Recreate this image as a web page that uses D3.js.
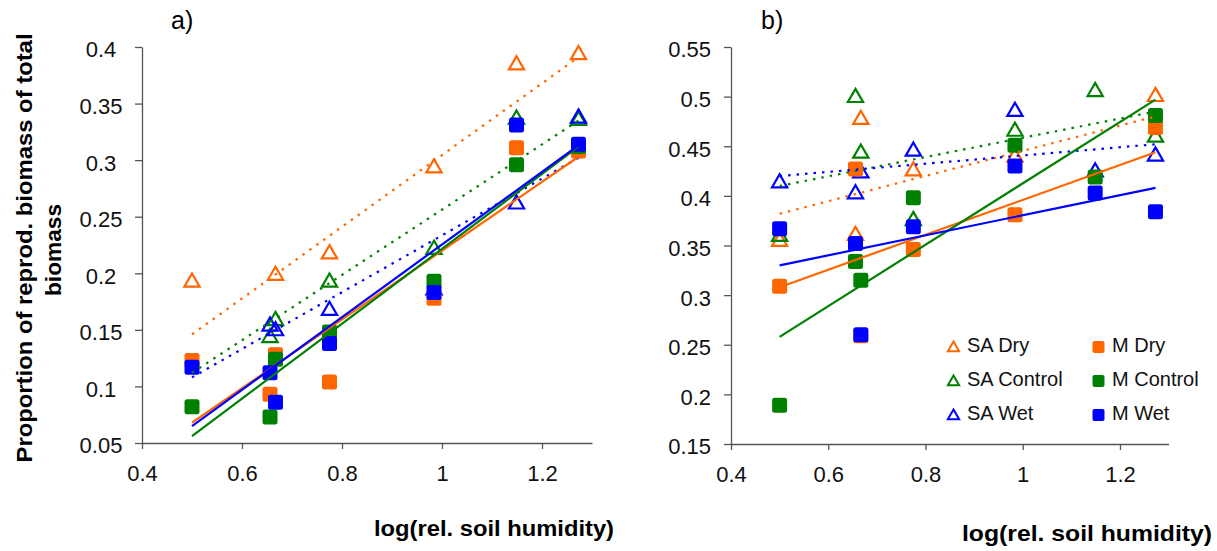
<!DOCTYPE html>
<html>
<head>
<meta charset="utf-8">
<script src="https://cdn.jsdelivr.net/npm/d3@7"></script>
<style>
  html, body { margin: 0; padding: 0; background: #fff; }
  svg { display: block; font-family: "Liberation Sans", Arial, sans-serif; }
</style>
</head>
<body>
<svg id="chart" width="1217" height="551"></svg>
<script>
// ---------------- data ----------------
const xValues = [0.50, 0.656, 0.667, 0.775, 0.984, 1.149, 1.273];
const seriesNames = ["SA Dry", "SA Control", "SA Wet", "M Dry", "M Control", "M Wet"];
const seriesColors = ["#FF6600", "#008000", "#0000FF", "#FF6600", "#008000", "#0000FF"];
const seriesShapes = ["triangle", "triangle", "triangle", "square", "square", "square"];

// panel a
const saDryA     = [0.193, null,  0.199, 0.218, 0.294, 0.385, 0.394];
const saControlA = [null,  0.144, 0.159, 0.193, 0.222, 0.337, 0.336];
const saWetA     = [null,  0.154, 0.150, 0.168, 0.186, 0.262, 0.338];
const mDryA      = [0.123, 0.093, 0.128, 0.104, 0.178, 0.311, 0.308];
const mControlA  = [0.082, 0.073, 0.124, 0.148, 0.193, 0.296, 0.312];
const mWetA      = [0.117, 0.112, 0.086, 0.138, 0.183, 0.331, 0.314];

// panel b
const saDryB     = [0.355, 0.361, 0.478, 0.426, 0.440, null,  0.501];
const saControlB = [0.360, 0.500, 0.444, 0.376, 0.466, 0.506, 0.460];
const saWetB     = [0.414, 0.403, 0.424, 0.446, 0.486, 0.425, 0.441];
const mDryB      = [0.309, 0.427, 0.259, 0.346, 0.381, null,  0.469];
const mControlB  = [0.189, 0.334, 0.315, 0.398, 0.451, 0.419, 0.481];
const mWetB      = [0.367, 0.352, 0.260, 0.369, 0.430, 0.403, 0.384];

// linear trend lines: fitted value at first and last x
const trendX = [0.50, 1.273];
const trendA = [[0.146, 0.391], [0.112, 0.335], [0.108, 0.302], [0.068, 0.303], [0.056, 0.312], [0.065, 0.313]];
const trendB = [[0.382, 0.480], [0.410, 0.485], [0.420, 0.452], [0.308, 0.444], [0.258, 0.497], [0.330, 0.408]];

const xTicks = [0.4, 0.6, 0.8, 1, 1.2];
const yTicksA = [0.05, 0.1, 0.15, 0.2, 0.25, 0.3, 0.35, 0.4];
const yTicksB = [0.15, 0.2, 0.25, 0.3, 0.35, 0.4, 0.45, 0.5, 0.55];
const xTitle = "log(rel. soil humidity)";
const yTitle1 = "Proportion of reprod. biomass of total";
const yTitle2 = "biomass";

// ---------------- drawing ----------------
const svg = d3.select("#chart");
const axisColor = "#555";

function panel(cfg) {
  const x = d3.scaleLinear().domain([0.4, 1.3]).range([cfg.left, cfg.right]);
  const y = d3.scaleLinear().domain(cfg.yDomain).range([cfg.bottom, cfg.top]);
  const g = svg.append("g");

  const xAxis = g.append("g").attr("transform", `translate(0,${cfg.bottom})`)
    .call(d3.axisBottom(x).tickValues(xTicks).tickSize(6).tickSizeOuter(0).tickPadding(16).tickFormat(d3.format("")));
  const yAxis = g.append("g").attr("transform", `translate(${cfg.left},0)`)
    .call(d3.axisLeft(y).tickValues(cfg.yTicks).tickSize(7).tickSizeOuter(0).tickPadding(cfg.yPad).tickFormat(d3.format("")));
  [xAxis, yAxis].forEach(a => {
    a.selectAll("path, line").attr("stroke", axisColor).attr("stroke-width", 1.3);
    a.selectAll("text").attr("fill", "#111").style("font-size", "22px");
  });
  yAxis.selectAll("text").attr("dy", "0.45em");
  if (cfg.yLabelCenter != null) {
    yAxis.selectAll("text").attr("text-anchor", "middle").attr("x", cfg.yLabelCenter - cfg.left);
  }

  // markers
  const tri = d3.symbol().type(d3.symbolTriangle).size(100);
  cfg.series.forEach((vals, i) => {
    const pts = xValues.map((xv, j) => ({x: xv, y: vals[j]})).filter(d => d.y != null);
    if (seriesShapes[i] === "triangle") {
      g.selectAll(null).data(pts).enter().append("path")
        .attr("d", tri)
        .attr("transform", d => `translate(${x(d.x)},${y(d.y) + 1})`)
        .attr("fill", "#fff").attr("fill-opacity", 0)
        .attr("stroke", seriesColors[i]).attr("stroke-width", 2.2);
    } else {
      g.selectAll(null).data(pts).enter().append("rect")
        .attr("x", d => x(d.x) - 7.5).attr("y", d => y(d.y) - 7.5)
        .attr("width", 15).attr("height", 15).attr("rx", 2.5)
        .attr("fill", seriesColors[i]);
    }
  });

  // trend lines
  cfg.trend.forEach((t, i) => {
    g.append("line")
      .attr("x1", x(trendX[0])).attr("y1", y(t[0]))
      .attr("x2", x(trendX[1])).attr("y2", y(t[1]))
      .attr("stroke", seriesColors[i]).attr("stroke-width", 2.2)
      .attr("stroke-dasharray", seriesShapes[i] === "triangle" ? "2.5,6" : null);
  });

  // x title
  g.append("text").attr("x", cfg.xTitleX).attr("y", cfg.xTitleY)
    .attr("text-anchor", "middle").style("font-size", "22px").style("font-weight", "bold")
    .attr("textLength", cfg.xTitleLen).attr("lengthAdjust", "spacingAndGlyphs")
    .text(xTitle);
  // panel label
  g.append("text").attr("x", cfg.labelX).attr("y", 29).style("font-size", "25px").text(cfg.label);
  return {x, y, g};
}

const A = panel({
  left: 142, right: 592, top: 47, bottom: 443, yDomain: [0.05, 0.4], yTicks: yTicksA, yPad: 8, yLabelCenter: 101,
  series: [saDryA, saControlA, saWetA, mDryA, mControlA, mWetA], trend: trendA,
  xTitleX: 494, xTitleY: 536, xTitleLen: 240, label: "a)", labelX: 171
});
const B = panel({
  left: 731, right: 1168.6, top: 47, bottom: 444, yDomain: [0.15, 0.55], yTicks: yTicksB, yPad: 13, yLabelCenter: null,
  series: [saDryB, saControlB, saWetB, mDryB, mControlB, mWetB], trend: trendB,
  xTitleX: 1087, xTitleY: 541, xTitleLen: 250, label: "b)", labelX: 761
});

// y title (panel a)
svg.append("text").attr("transform", "translate(32,248) rotate(-90)")
  .attr("text-anchor", "middle").style("font-size", "22px").style("font-weight", "bold")
  .attr("textLength", 429).attr("lengthAdjust", "spacingAndGlyphs").text(yTitle1);
svg.append("text").attr("transform", "translate(61,250) rotate(-90)")
  .attr("text-anchor", "middle").style("font-size", "22px").style("font-weight", "bold")
  .attr("textLength", 92).attr("lengthAdjust", "spacingAndGlyphs").text(yTitle2);

// legend (panel b)
const legend = svg.append("g");
const legendCols = [953.5, 1098.5];
const legendRows = [352, 386, 420];
const triSmall = d3.symbol().type(d3.symbolTriangle).size(55);
seriesNames.forEach((name, i) => {
  const col = Math.floor(i / 3), row = i % 3;
  const cx = legendCols[col], by = legendRows[row];
  if (seriesShapes[i] === "triangle") {
    legend.append("path").attr("d", triSmall)
      .attr("transform", `translate(${cx},${by - 4})`)
      .attr("fill", "none").attr("stroke", seriesColors[i]).attr("stroke-width", 2);
  } else {
    legend.append("rect").attr("x", cx - 6).attr("y", by - 11).attr("width", 12).attr("height", 12)
      .attr("rx", 2).attr("fill", seriesColors[i]);
  }
  legend.append("text").attr("x", cx + 13.5).attr("y", by)
    .style("font-size", "20px").attr("fill", "#111").text(name);
});
</script>
</body>
</html>
